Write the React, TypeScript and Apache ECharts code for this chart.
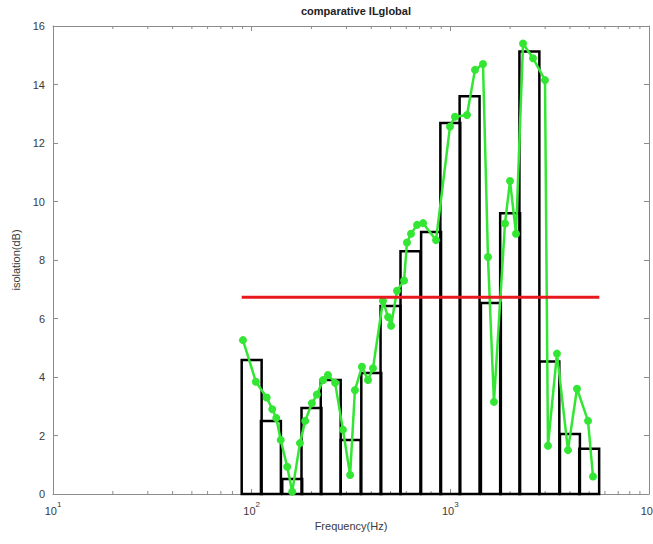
import React, { useEffect, useRef } from 'react';
import * as echarts from 'echarts';

// 1/3-octave band results (black outlined bars)
const bandCenters = [100, 125, 160, 200, 250, 315, 400, 500, 630, 800, 1000, 1250, 1600, 2000, 2500, 3150, 4000, 5000];
const bandValues = [4.58, 2.5, 0.51, 2.94, 3.9, 1.85, 4.14, 6.43, 8.3, 8.96, 12.68, 13.6, 6.53, 9.6, 15.13, 4.53, 2.05, 1.55];

// fine-resolution curve (green)
const fineFreqs = [90.4, 105, 119, 127, 133, 140, 151, 160, 175, 186, 201, 213, 229, 242, 263, 288, 313, 331, 359, 385, 408, 458, 486, 503, 539, 585, 605, 634, 680, 729, 847, 996, 1055, 1213, 1331, 1460, 1547, 1658, 1884, 1997, 2141, 2322, 2607, 2996, 3101, 3442, 3910, 4341, 4932, 5225];
const fineValues = [5.26, 3.84, 3.3, 2.9, 2.6, 1.85, 0.93, 0.08, 1.74, 2.5, 3.1, 3.4, 3.9, 4.07, 3.8, 2.2, 0.65, 3.55, 4.35, 3.9, 4.3, 6.6, 6.05, 5.75, 6.95, 7.3, 8.6, 8.9, 9.2, 9.26, 8.68, 12.56, 12.9, 12.96, 14.5, 14.7, 8.1, 3.15, 9.25, 10.7, 8.9, 15.4, 14.9, 14.15, 1.65, 4.8, 1.5, 3.6, 2.5, 0.6];

// global mean (red line)
const meanValue = 6.73;
const meanRange = [89.1, 5623];

// axis ranges / ticks
const xMin = 10;
const xMax = 10000;
const yMin = 0;
const yMax = 16;
const yInterval = 2;
const minorTickFreqs = [20, 30, 40, 50, 60, 70, 80, 90, 200, 300, 400, 500, 600, 700, 800, 900, 2000, 3000, 4000, 5000, 6000, 7000, 8000, 9000];

const FONT = '"Liberation Sans", Arial, Helvetica, sans-serif';
const AXIS_COLOR = '#8c8c8c';
const LABEL_COLOR = '#3a3a3a';

export default function App() {
  const ref = useRef<HTMLDivElement>(null);

  useEffect(() => {
    if (!ref.current) return;
    const chart = echarts.init(ref.current, undefined, { renderer: 'svg' });

    const bandData = bandCenters.map((c, i) => [c * Math.pow(2, -1 / 6), c * Math.pow(2, 1 / 6), bandValues[i]]);
    const fineData = fineFreqs.map((f, i) => [f, fineValues[i]]);

    const axisCommon = {
      axisLine: { show: true, onZero: false, lineStyle: { color: AXIS_COLOR, width: 1 } },
      axisTick: { show: true, inside: true, length: 5, lineStyle: { color: AXIS_COLOR } },
      splitLine: { show: false },
    };

    const option: any = {
      animation: false,
      backgroundColor: '#ffffff',
      textStyle: { fontFamily: FONT },
      title: {
        text: 'comparative ILglobal',
        left: 351,
        top: 0,
        textAlign: 'center',
        textStyle: { fontSize: 11, fontWeight: 'bold', color: '#222', fontFamily: FONT },
      },
      grid: { left: 53, right: 4, top: 26, bottom: 50, containLabel: false, outerBoundsMode: 'none' },
      xAxis: [
        {
          type: 'log',
          logBase: 10,
          min: xMin,
          max: xMax,
          name: 'Frequency(Hz)',
          nameLocation: 'middle',
          nameGap: 16,
          nameTextStyle: { fontSize: 11, color: LABEL_COLOR, fontFamily: FONT },
          ...axisCommon,
          axisLabel: {
            show: true,
            margin: 6,
            formatter: (v: number) => `{b|10}{s|${Math.round(Math.log10(v))}}`,
            rich: {
              b: { fontSize: 11, color: LABEL_COLOR, fontFamily: FONT, verticalAlign: 'bottom', lineHeight: 16 },
              s: { fontSize: 8, color: LABEL_COLOR, fontFamily: FONT, verticalAlign: 'top' },
            },
          },
        },
        {
          type: 'log',
          logBase: 10,
          min: xMin,
          max: xMax,
          position: 'top',
          ...axisCommon,
          axisLabel: { show: false },
        },
      ],
      yAxis: [
        {
          type: 'value',
          min: yMin,
          max: yMax,
          interval: yInterval,
          name: 'isolation(dB)',
          nameLocation: 'middle',
          nameGap: 28,
          nameTextStyle: { fontSize: 11, color: LABEL_COLOR, fontFamily: FONT },
          ...axisCommon,
          axisLabel: { show: true, margin: 8, fontSize: 11, color: LABEL_COLOR, fontFamily: FONT },
        },
        {
          type: 'value',
          min: yMin,
          max: yMax,
          interval: yInterval,
          position: 'right',
          ...axisCommon,
          axisLabel: { show: false },
        },
      ],
      series: [
        {
          type: 'custom',
          name: 'minorTicks',
          xAxisIndex: 0,
          yAxisIndex: 0,
          silent: true,
          z: 1,
          data: minorTickFreqs.map((f) => [f]),
          encode: { x: 0 },
          renderItem: (params: any, api: any) => {
            const f = api.value(0);
            const b = api.coord([f, yMin]);
            const t = api.coord([f, yMax]);
            const style = { stroke: AXIS_COLOR, lineWidth: 1 };
            return {
              type: 'group',
              children: [
                { type: 'line', shape: { x1: b[0], y1: b[1], x2: b[0], y2: b[1] - 3 }, style },
                { type: 'line', shape: { x1: t[0], y1: t[1], x2: t[0], y2: t[1] + 3 }, style },
              ],
            };
          },
        },
        {
          type: 'custom',
          name: 'bands',
          xAxisIndex: 0,
          yAxisIndex: 0,
          z: 2,
          data: bandData,
          encode: { x: [0, 1], y: 2 },
          renderItem: (params: any, api: any) => {
            const lo = api.value(0);
            const hi = api.value(1);
            const v = api.value(2);
            const p1 = api.coord([lo, v]);
            const p2 = api.coord([hi, yMin]);
            return {
              type: 'rect',
              shape: { x: p1[0], y: p1[1], width: p2[0] - p1[0], height: p2[1] - p1[1] },
              style: { fill: 'none', stroke: '#000000', lineWidth: 2.5 },
            };
          },
        },
        {
          type: 'line',
          name: 'fine',
          xAxisIndex: 0,
          yAxisIndex: 0,
          z: 3,
          data: fineData,
          symbol: 'circle',
          symbolSize: 8,
          showSymbol: true,
          lineStyle: { color: '#33e633', width: 2.5 },
          itemStyle: { color: '#33e633', borderWidth: 0 },
        },
        {
          type: 'line',
          name: 'mean',
          xAxisIndex: 0,
          yAxisIndex: 0,
          z: 4,
          data: [
            [meanRange[0], meanValue],
            [meanRange[1], meanValue],
          ],
          symbol: 'none',
          lineStyle: { color: '#e8191e', width: 3 },
        },
      ],
    };

    chart.setOption(option);
    return () => chart.dispose();
  }, []);

  return (
    <div
      ref={ref}
      style={{ position: 'fixed', left: 0, top: 0, width: 653, height: 544, background: '#fff' }}
    />
  );
}
